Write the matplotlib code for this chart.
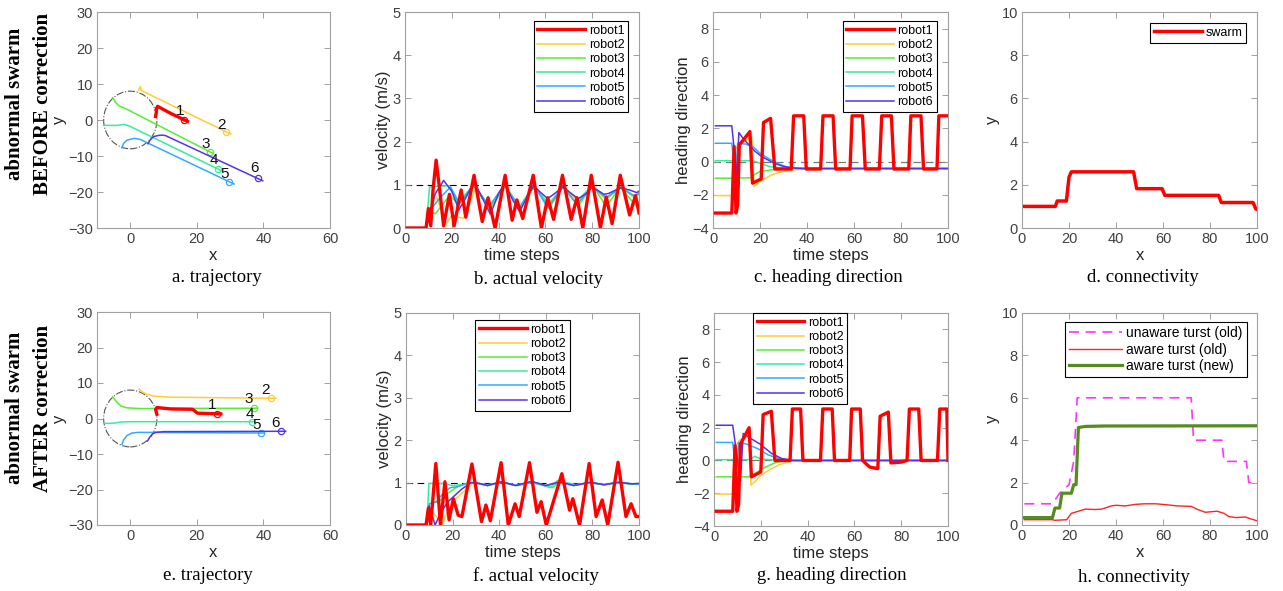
import matplotlib
matplotlib.use("Agg")
import matplotlib.pyplot as plt
from matplotlib.patches import Circle

plt.rcParams['font.family'] = ['Liberation Sans', 'DejaVu Sans']

W, H = 1283, 591

# ---------------- data ----------------
robot_names = ['robot1', 'robot2', 'robot3', 'robot4', 'robot5', 'robot6']
robot_colors = ['#ff0000', '#ffcc33', '#55ee33', '#33ee99', '#33aaff', '#5533ee']

# a. trajectory (before correction)
a_x1 = [7.6, 7.9, 7.7, 8.2, 12.0, 17.2]
a_y1 = [1.0, 2.5, 2.8, 3.8, 1.9, -0.4]
a_x2 = [2.5, 3.0, 3.3, 30.2]
a_y2 = [8.3, 9.3, 8.2, -3.9]
a_x3 = [-5.3, -4.5, -3.5, -1.5, 24.9]
a_y3 = [6.2, 5.0, 4.0, 3.2, -9.3]
a_x4 = [-8.0, -4.0, -1.8, 0.0, 27.2]
a_y4 = [-1.5, -1.5, -1.2, -1.8, -14.0]
a_x5 = [-2.5, -2.0, -1.0, 1.2, 3.0, 31.2]
a_y5 = [-7.7, -6.5, -5.6, -5.1, -5.4, -17.8]
a_x6 = [5.3, 6.0, 7.0, 9.0, 10.5, 39.8]
a_y6 = [-6.6, -5.5, -4.6, -4.2, -4.3, -16.9]
a_end_x = [16.2, 28.8, 23.9, 26.4, 29.8, 38.3]
a_end_y = [-0.1, -3.3, -8.8, -13.6, -17.1, -16.1]
a_lab_x = [15.0, 27.5, 22.6, 25.2, 28.4, 37.3]
a_lab_y = [2.6, -1.5, -6.8, -11.2, -15.1, -13.4]

# e. trajectory (after correction)
e_x1 = [8.0, 7.6, 8.0, 12.0, 18.7, 20.2, 27.2]
e_y1 = [1.2, 2.5, 3.1, 2.7, 2.6, 1.5, 1.3]
e_x2 = [2.7, 3.5, 5.0, 7.2, 12.0, 43.7]
e_y2 = [8.3, 7.5, 6.8, 6.3, 6.0, 5.7]
e_x3 = [-5.3, -4.0, -2.8, -1.0, 3.0, 38.2]
e_y3 = [6.1, 4.6, 3.5, 3.0, 2.8, 2.9]
e_x4 = [-8.0, -4.8, -3.0, 0.0, 37.2]
e_y4 = [-1.4, -1.3, -1.0, -0.9, -0.9]
e_x5 = [-2.5, -2.0, -1.0, 0.5, 2.5, 40.2]
e_y5 = [-7.3, -6.0, -4.8, -4.1, -3.9, -4.1]
e_x6 = [5.2, 5.8, 6.6, 7.6, 10.0, 46.7]
e_y6 = [-6.3, -5.3, -4.4, -3.9, -3.7, -3.6]
e_end_x = [26.0, 42.2, 37.2, 36.5, 39.2, 45.2]
e_end_y = [1.4, 5.7, 3.0, -0.9, -4.1, -3.6]
e_lab_x = [24.7, 40.7, 35.7, 36.0, 37.8, 43.7]
e_lab_y = [3.7, 8.1, 5.4, 1.2, -1.9, -1.3]

# b. actual velocity (before)
b_t1 = [1, 9, 10, 11, 12, 13.3, 15, 16.5, 19, 21, 24, 26, 29.5, 33, 35.5, 38.5, 42.8, 45.8, 47.8, 50.3,
        54.8, 58.3, 61, 63.5, 67.3, 71, 73.5, 76, 79.6, 83.5, 86, 88.5, 92, 96, 98.5, 100]
b_v1 = [0, 0, 0.45, 0.05, 0.9, 1.57, 0.8, 0.05, 0.78, 0.05, 0.88, 0.25, 1.22, 0.15, 0.7, 0.0, 1.22, 0.18, 0.65, 0.22,
        1.22, 0.0, 0.7, 0.2, 1.22, 0.2, 0.7, 0.0, 1.22, 0.0, 0.72, 0.1, 1.22, 0.3, 0.75, 0.35]
b_t2 = [1, 9, 10.5, 13.5, 17.5, 20, 23, 25, 30, 36.5, 43, 49, 55, 61, 68, 74, 80, 86, 92, 98, 100]
b_v2 = [0, 0, 0.45, 0.72, 0.08, 0.3, 0.25, 0.22, 0.9, 0.45, 0.95, 0.5, 0.95, 0.55, 0.95, 0.6, 0.97, 0.65, 0.95, 0.7, 0.85]
b_t3 = [1, 9, 10, 13, 19, 23, 29.5, 36, 43, 49, 55.5, 61.5, 67.5, 74, 80, 86, 92, 98.5, 100]
b_v3 = [0, 0, 0.4, 0.33, 0.75, 0.55, 0.97, 0.45, 0.97, 0.45, 0.97, 0.45, 0.97, 0.5, 1.0, 0.5, 0.95, 0.52, 0.6]
b_t4 = [1, 9, 10.5, 15, 19, 23, 29.5, 36, 42.5, 49, 55, 61.5, 67.5, 74, 80, 86, 92.5, 98, 100]
b_v4 = [0, 0, 0.95, 0.97, 0.98, 0.62, 1.0, 0.5, 1.0, 0.5, 0.98, 0.55, 0.97, 0.65, 0.98, 0.7, 0.97, 0.72, 0.78]
b_t5 = [1, 9, 10.5, 15, 19.5, 23, 29.5, 36, 42.5, 49, 55, 61, 67.5, 73.5, 80, 86, 92, 98, 100]
b_v5 = [0, 0, 0.4, 0.7, 0.95, 0.55, 1.0, 0.5, 1.0, 0.45, 1.0, 0.47, 0.95, 0.55, 0.95, 0.7, 0.92, 0.75, 0.8]
b_t6 = [1, 9, 10, 11, 13, 16.5, 20, 23, 26, 29.5, 33, 36.5, 40, 42.5, 46, 49, 52, 55, 58, 61, 64,
        67.5, 71, 74, 77, 80, 83, 85, 87, 92, 96, 99, 100]
b_v6 = [0, 0, 0.2, 0.45, 0.8, 1.1, 0.85, 0.42, 0.7, 1.08, 0.7, 0.32, 0.8, 1.03, 0.65, 0.38, 0.7, 0.98, 0.82, 0.68, 0.8,
        0.95, 0.8, 0.68, 0.78, 0.95, 0.85, 0.78, 0.8, 0.93, 0.88, 0.82, 0.85]

# f. actual velocity (after)
f_t1 = [1, 8.6, 9.6, 10.6, 12.8, 14.8, 16.7, 18.5, 20.3, 22.4, 24, 28.3, 32.4, 34.3, 36.2, 40.8, 43.9, 46.8, 48.6,
        53, 56.2, 58, 60.2, 66.9, 70.2, 71.6, 74.5, 78.6, 81.6, 84.2, 86.6, 91, 94.4, 96.6, 98.7, 100]
f_v1 = [0, 0, 0.4, 0.0, 1.45, 0.0, 1.02, 0.12, 0.62, 0.23, 0.2, 1.44, 0.08, 0.47, 0.1, 1.47, 0.0, 0.5, 0.2,
        1.47, 0.3, 0.55, 0.0, 1.21, 0.35, 0.62, 0.0, 1.45, 0.2, 0.59, 0.0, 1.48, 0.2, 0.5, 0.2, 0.2]
f_t2 = [1, 9, 10, 13, 15.5, 18, 21, 25, 29, 35, 41, 47, 54, 60, 66, 72, 79, 85, 91, 97, 100]
f_v2 = [0, 0, 0.4, 0.2, 0.0, 0.35, 0.6, 0.8, 1.0, 0.94, 1.01, 0.94, 1.01, 0.93, 1.02, 0.94, 1.0, 0.95, 1.0, 0.97, 0.97]
f_t3 = [1, 9, 10, 14, 18, 22, 27, 29, 35, 41, 47, 54, 60, 62, 65, 72, 79, 85, 91, 97, 100]
f_v3 = [0, 0, 0.5, 0.55, 0.75, 0.9, 1.0, 1.0, 0.94, 1.01, 0.94, 1.01, 0.92, 0.88, 1.05, 0.94, 1.0, 0.95, 1.0, 0.97, 0.98]
f_t4 = [1, 9, 9.8, 16, 20, 24, 28, 35, 41, 48, 54, 60, 63, 66, 73, 79, 85, 91, 97, 100]
f_v4 = [0, 0, 0.98, 0.98, 0.93, 0.95, 1.0, 0.95, 1.0, 0.93, 1.0, 0.92, 0.88, 1.03, 0.95, 1.0, 0.95, 1.0, 0.96, 0.97]
f_t5 = [1, 9, 10, 13, 16, 19, 22, 27, 29, 35, 41, 47, 54, 60, 66, 72, 79, 85, 91, 97, 100]
f_v5 = [0, 0, 0.5, 0.55, 0.75, 0.88, 0.9, 1.0, 1.0, 0.93, 1.02, 0.93, 1.02, 0.93, 1.0, 0.93, 1.0, 0.95, 1.0, 0.97, 0.97]
f_t6 = [1, 9, 10, 12.5, 15, 18, 21, 24, 28, 30, 35, 41, 47, 54, 60, 66, 72, 79, 85, 91, 97, 100]
f_v6 = [0, 0, 0.45, 0.0, 0.3, 0.55, 0.7, 0.85, 1.0, 1.0, 0.93, 1.02, 0.93, 1.03, 0.93, 1.02, 0.93, 1.01, 0.95, 1.01, 0.97, 0.98]

# c. heading direction (before)
c_t1 = [1, 8, 9, 9.8, 10.5, 11.2, 15.7, 16.8, 20.5, 21.5, 24.5, 26.3, 33.3, 34.3, 38.6, 39.7, 45.8, 46.8,
        51.1, 52.2, 58.3, 59.2, 63.6, 64.8, 70.8, 71.8, 75.9, 77.0, 83.3, 84.2, 88.5, 89.6, 95.3, 96.1, 100]
c_h1 = [-3.1, -3.1, 0.9, -3.1, -2.6, 1.0, 1.8, -1.3, -1.05, 2.35, 2.6, -0.45, -0.45, 2.75, 2.75, -0.45, -0.45, 2.75,
        2.75, -0.45, -0.45, 2.75, 2.75, -0.45, -0.45, 2.75, 2.75, -0.45, -0.45, 2.75, 2.75, -0.45, -0.45, 2.75, 2.75]
c_t2 = [1, 8, 8.7, 11, 16.5, 17.5, 20, 25, 30, 35, 40, 100]
c_h2 = [-2.05, -2.05, 0.6, 1.0, 1.5, -1.5, -1.2, -0.8, -0.58, -0.5, -0.43, -0.42]
c_t3 = [1, 8, 16, 18, 20, 25, 30, 35, 100]
c_h3 = [-1.0, -1.0, -0.98, -0.75, -0.6, -0.5, -0.45, -0.42, -0.42]
c_t4 = [1, 17, 20, 24, 30, 36, 100]
c_h4 = [0.05, 0.05, -0.1, -0.3, -0.4, -0.42, -0.42]
c_t5 = [1, 8, 9.5, 10.5, 14, 17, 20, 24, 28, 32, 38, 100]
c_h5 = [1.1, 1.1, -0.9, 1.1, 1.05, 0.9, 0.5, 0.15, -0.15, -0.35, -0.42, -0.42]
c_t6 = [1, 8, 10.2, 11, 12.5, 14, 16, 18, 20, 22, 24, 26, 28, 30, 35, 40, 100]
c_h6 = [2.15, 2.15, -0.95, 1.75, 1.45, 1.2, 0.9, 0.6, 0.38, 0.2, 0.05, -0.1, -0.2, -0.3, -0.4, -0.42, -0.42]

# g. heading direction (after)
g_t1 = [1, 8, 9, 9.8, 10.5, 11.3, 15, 16, 20, 21, 24.5, 26, 32.5, 33.5, 37, 38, 45.5, 46.5, 50.5, 51.5,
        58, 58.8, 62.5, 63.5, 66.5, 70.0, 71.0, 74.5, 75.6, 80, 82.5, 83.5, 87.5, 88.5, 95.5, 96.5, 99.5, 100]
g_h1 = [-3.1, -3.1, 0.9, -3.1, -2.7, 1.0, 2.0, -1.0, -0.7, 2.8, 3.0, 0, 0, 3.14, 3.14, 0, 0, 3.14, 3.14, 0,
        0, 3.14, 3.14, 0, -0.4, -0.5, 2.7, 2.95, -0.15, -0.1, 0, 3.14, 3.14, 0, 0, 3.14, 3.14, 0]
g_t2 = [1, 8, 8.7, 11, 15, 15.8, 17.5, 20, 24, 28, 33, 38, 100]
g_h2 = [-2.05, -2.05, 0.8, 1.25, 1.5, -1.5, -1.3, -0.9, -0.55, -0.25, -0.05, 0, 0]
g_t3 = [1, 8, 15, 18, 22, 26, 31, 100]
g_h3 = [-1.0, -1.0, -1.0, -0.75, -0.4, -0.15, 0, 0]
g_t4 = [1, 15, 17.5, 20, 24, 30, 61, 63, 65, 100]
g_h4 = [0.05, 0.05, 0.25, 0.1, 0.05, 0, 0, 0.07, 0, 0]
g_t5 = [1, 8, 9.5, 10.5, 14, 19, 23, 28, 32, 100]
g_h5 = [1.1, 1.1, -0.9, 1.1, 1.0, 0.7, 0.35, 0.1, 0, 0]
g_t6 = [1, 8, 11.3, 12.5, 15, 19.7, 24.6, 28.9, 34, 100]
g_h6 = [2.15, 2.15, -1.25, 1.65, 1.4, 1.0, 0.43, 0.12, 0, 0]

# d. connectivity (before)
d_t = [1, 14.2, 15, 18.9, 20, 21, 47.5, 48.8, 59.6, 60.8, 83.7, 84.8, 98.3, 99.5, 100]
d_y = [1.0, 1.0, 1.25, 1.25, 2.35, 2.6, 2.6, 1.82, 1.82, 1.51, 1.51, 1.18, 1.18, 0.88, 0.86]

# h. connectivity (after)
h_t_unaware = [1, 13, 16, 18, 20, 22, 23.5, 72, 73, 85, 86, 95.5, 96.5, 100]
h_y_unaware = [1, 1, 1.5, 1.7, 1.9, 3.0, 6.0, 6.0, 4.0, 4.0, 3.0, 3.0, 2.0, 2.0]
h_t_old = [1, 13, 14, 19, 21, 24, 27, 31, 34, 38, 40, 44, 48, 52, 57, 62, 66, 72, 75, 78, 83, 86, 88, 91, 95, 97, 100]
h_y_old = [0.25, 0.25, 0.22, 0.25, 0.55, 0.65, 0.75, 0.73, 0.75, 0.9, 0.93, 0.9, 0.97, 1.0, 1.0, 0.95, 0.9, 0.88,
           0.72, 0.6, 0.65, 0.55, 0.4, 0.35, 0.38, 0.3, 0.2]
h_t_new = [1, 13, 14, 16, 17, 21, 22, 23, 24, 27, 35, 100]
h_y_new = [0.35, 0.35, 0.8, 0.8, 1.5, 1.5, 1.9, 1.9, 4.6, 4.65, 4.67, 4.68]


# ---------------- helpers ----------------
fig = plt.figure(figsize=(W / 100, H / 100), dpi=100)


def px_axes(left, top, right, bottom):
    return fig.add_axes([left / W, 1 - bottom / H, (right - left) / W, (bottom - top) / H])


def style(ax):
    for s in ax.spines.values():
        s.set_color('#a0a0a0')
        s.set_linewidth(0.8)
    ax.tick_params(direction='in', top=True, right=True, length=4, width=0.6,
                   color='#909090', labelsize=10.5, labelcolor='#404040', pad=3)


def label(ax, xl, yl):
    ax.set_xlabel(xl, fontsize=12, color='#262626', labelpad=1)
    ax.set_ylabel(yl, fontsize=12, color='#262626', labelpad=1)


def legend(ax, loc, anchor, fs=9, **kw):
    leg = ax.legend(loc=loc, bbox_to_anchor=anchor, fontsize=fs, frameon=True, fancybox=False,
                    edgecolor='black', framealpha=1, handlelength=3.8, labelspacing=0.18,
                    borderpad=0.3, handletextpad=0.3, borderaxespad=0, **kw)
    leg.get_frame().set_linewidth(0.8)
    return leg


def caption(x, y, text):
    fig.text(x / W, 1 - y / H, text, ha='center', va='center', family='Liberation Serif', fontsize=13.5)


def trajectory(ax, xs, ys, ends_x, ends_y, labs_x, labs_y):
    ax.add_patch(Circle((0, 0), 8, fill=False, ls='-.', lw=0.8, color='#555555'))
    for i in range(6):
        lw = 2.4 if i == 0 else 1.1
        ax.plot(xs[i], ys[i], color=robot_colors[i], lw=lw, zorder=3 if i == 0 else 2)
        ax.plot(ends_x[i], ends_y[i], 'o', ms=4.5, mfc='none', mec=robot_colors[i], mew=0.9)
        ax.text(labs_x[i], labs_y[i], str(i + 1), fontsize=11, ha='center', va='center', color='#111111')
    ax.set_xlim(-10, 60)
    ax.set_ylim(-30, 30)
    ax.set_xticks([0, 20, 40, 60])
    ax.set_yticks(range(-30, 31, 10))
    style(ax)
    label(ax, 'x', 'y')


def robots(ax, ts, vs):
    for i in range(6):
        lw = 2.4 if i == 0 else 1.1
        ax.plot(ts[i], vs[i], color=robot_colors[i], lw=lw, label=robot_names[i], zorder=3 if i == 0 else 2)
    ax.set_xlim(0, 100)
    ax.set_xticks(range(0, 101, 20))


# ---------------- panels ----------------
ax = px_axes(97, 12, 330, 228)
trajectory(ax, [a_x1, a_x2, a_x3, a_x4, a_x5, a_x6], [a_y1, a_y2, a_y3, a_y4, a_y5, a_y6],
           a_end_x, a_end_y, a_lab_x, a_lab_y)

ax = px_axes(97, 312, 330, 525)
trajectory(ax, [e_x1, e_x2, e_x3, e_x4, e_x5, e_x6], [e_y1, e_y2, e_y3, e_y4, e_y5, e_y6],
           e_end_x, e_end_y, e_lab_x, e_lab_y)

ax = px_axes(405, 12, 639, 228)
ax.axhline(1, color='black', ls=(0, (6, 4)), lw=0.8, zorder=1)
robots(ax, [b_t1, b_t2, b_t3, b_t4, b_t5, b_t6], [b_v1, b_v2, b_v3, b_v4, b_v5, b_v6])
ax.set_ylim(0, 5)
style(ax)
label(ax, 'time steps', 'velocity (m/s)')
legend(ax, 'upper right', (0.953, 0.958))

ax = px_axes(406, 313, 639, 525)
ax.axhline(1, color='black', ls=(0, (6, 4)), lw=0.8, zorder=1)
robots(ax, [f_t1, f_t2, f_t3, f_t4, f_t5, f_t6], [f_v1, f_v2, f_v3, f_v4, f_v5, f_v6])
ax.set_ylim(0, 5)
style(ax)
label(ax, 'time steps', 'velocity (m/s)')
legend(ax, 'upper center', (0.5, 0.967))

ax = px_axes(713, 12, 948, 228)
ax.axhline(0, color='#777777', ls=(0, (6, 4)), lw=0.9, zorder=1)
robots(ax, [c_t1, c_t2, c_t3, c_t4, c_t5, c_t6], [c_h1, c_h2, c_h3, c_h4, c_h5, c_h6])
ax.set_ylim(-4, 9)
ax.set_yticks(range(-4, 9, 2))
style(ax)
label(ax, 'time steps', 'heading direction')
legend(ax, 'upper right', (0.953, 0.958))

ax = px_axes(714, 313, 948, 526)
ax.axhline(0, color='#777777', ls=(0, (6, 4)), lw=0.9, zorder=1)
robots(ax, [g_t1, g_t2, g_t3, g_t4, g_t5, g_t6], [g_h1, g_h2, g_h3, g_h4, g_h5, g_h6])
ax.set_ylim(-4, 9)
ax.set_yticks(range(-4, 9, 2))
style(ax)
label(ax, 'time steps', 'heading direction')
legend(ax, 'upper left', (0.167, 1.0))

ax = px_axes(1022, 12, 1257, 228)
ax.plot(d_t, d_y, color='#ff0000', lw=2.5, label='swarm')
ax.set_xlim(0, 100)
ax.set_ylim(0, 10)
ax.set_xticks(range(0, 101, 20))
ax.set_yticks(range(0, 11, 2))
style(ax)
label(ax, 'x', 'y')
legend(ax, 'upper right', (0.953, 0.949))

ax = px_axes(1022, 313, 1257, 525)
ax.plot(h_t_unaware, h_y_unaware, color='#ff33ff', lw=1.2, ls=(0, (6, 4)), label='unaware turst (old)')
ax.plot(h_t_old, h_y_old, color='#ff2222', lw=1.0, label='aware turst (old)')
ax.plot(h_t_new, h_y_new, color='#558b1f', lw=2.3, label='aware turst (new)')
ax.set_xlim(0, 100)
ax.set_ylim(0, 10)
ax.set_xticks(range(0, 101, 20))
ax.set_yticks(range(0, 11, 2))
style(ax)
label(ax, 'x', 'y')
legend(ax, 'upper right', (0.957, 0.958), fs=10)

# captions
caption(217, 278, 'a. trajectory')
caption(538, 279, 'b. actual velocity')
caption(828, 278, 'c. heading direction')
caption(1143, 278, 'd. connectivity')
caption(208, 576, 'e. trajectory')
caption(536, 576, 'f. actual velocity')
caption(832, 576, 'g. heading direction')
caption(1134, 577, 'h. connectivity')

# row labels
for y0, word in [(104, 'BEFORE correction'), (408, 'AFTER correction')]:
    fig.text(15 / W, 1 - y0 / H, 'abnormal swarm', rotation=90, ha='center', va='center',
             family='Liberation Serif', fontweight='bold', fontsize=15)
    fig.text(43 / W, 1 - y0 / H, word, rotation=90, ha='center', va='center',
             family='Liberation Serif', fontweight='bold', fontsize=15)

fig.savefig('out.png', dpi=100)
